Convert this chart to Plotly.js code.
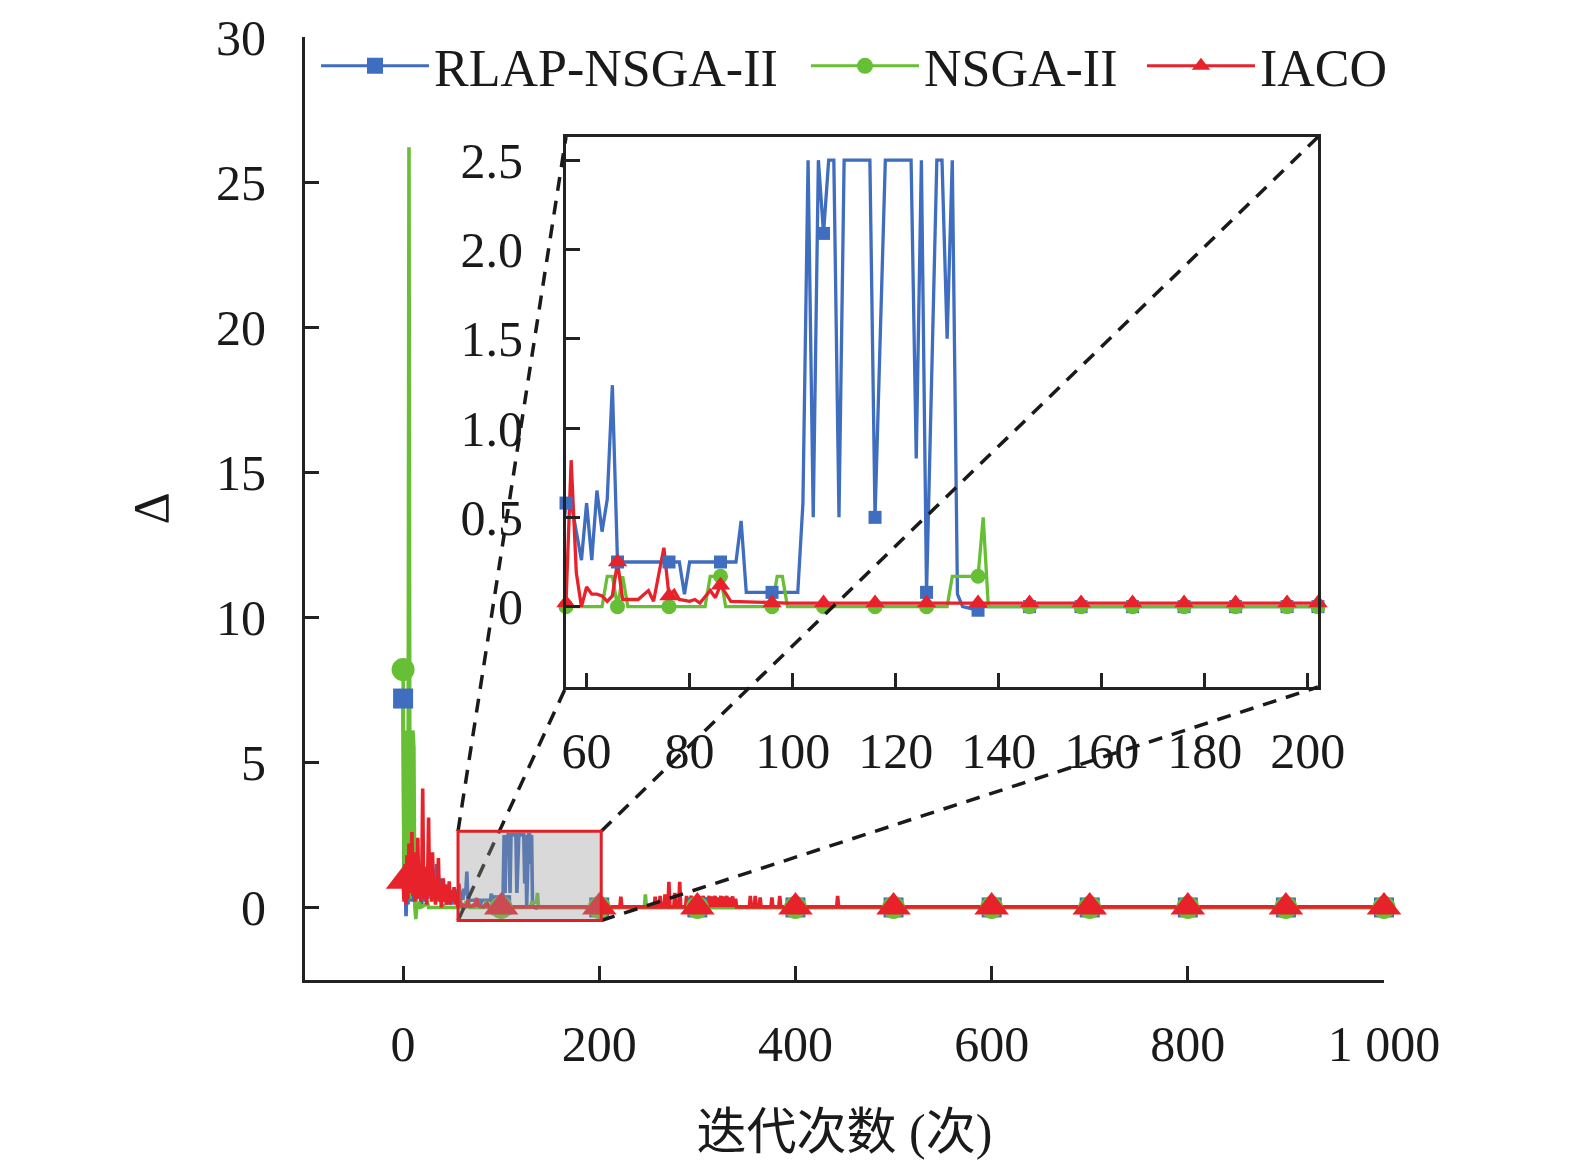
<!DOCTYPE html>
<html>
<head>
<meta charset="utf-8">
<script src="https://cdn.plot.ly/plotly-3.0.1.min.js"></script>
<style>html,body{margin:0;padding:0;background:#fff;}</style>
</head>
<body>
<div id="chart" style="width:1575px;height:1171px;"></div>
<script>
// ---------------- data ----------------
const seriesNames = ['RLAP-NSGA-II', 'NSGA-II', 'IACO'];

// RLAP-NSGA-II (blue) vertices: iteration / Delta
const rlapIter = [0,1,2,3,4,5,6,7,8,9,10,11,12,13,14,15,16,17,18,19,20,21,22,23,24,25,26,27,28,29,30,31,32,33,34,35,36,37,38,39,40,41,42,43,44,45,46,47,48,49,50,51,52,53,54,55,
  56,57,59,60,61,62,63,64,65,66,75,78,79,80,89,90,91,101,102,103,104,105,106,107,108,109,110,115,116,118,123,124,125,126,128,129,130,131,132,133,136,137,1000];
const rlapVal = [7.2,0.3,1.2,-0.3,0.9,0.1,1.5,0.4,1.1,0.2,1.3,0.5,1.0,0.2,0.8,0.3,1.2,0.4,0.9,0.1,0.7,0.3,0.8,0.2,0.6,0.3,1.4,0.4,1.2,0.3,0.9,0.4,1.3,0.5,1.5,0.6,1.1,0.4,1.0,0.3,0.9,0.2,0.6,0.2,0.5,0.1,0.4,0.2,0.5,0.1,0.3,0.2,0.4,0.3,0.5,0.3,
  0.58,0.58,0.26,0.58,0.26,0.65,0.42,0.6,1.24,0.25,0.25,0.25,0.07,0.25,0.25,0.48,0.08,0.08,0.58,2.5,0.5,2.5,2.09,2.5,2.5,0.5,2.5,2.5,0.5,2.5,2.5,0.83,2.5,0.08,2.5,2.5,1.5,2.5,0.07,0.0,-0.02,0.0,0.0];

// NSGA-II (green)
const nsgaIter = [0,1,2,3,4,5,6,7,8,9,10,11,12,13,14,15,16,17,18,25,26,40,41,42,
  56,63,64,65,66,67,68,83,84,86,87,96,97,98,99,130,131,136,137,138,246,247,248,322,323,324,1000];
const nsgaVal = [8.2,0.4,6.0,0.3,6.1,0.5,26.2,0.3,6.0,0.4,6.1,5.5,0.0,-0.4,0.1,0.0,0.2,0.0,0.0,0.15,0.0,0.0,0.1,0.0,
  0.0,0.0,0.17,0.17,0.0,0.17,0.0,0.0,0.17,0.17,0.0,0.0,0.17,0.17,0.0,0.0,0.17,0.17,0.5,0.0,0.0,0.45,0.0,0.0,0.3,0.0,0.0];

// IACO (red)
const iacoIter = [0,1,2,3,4,5,6,7,8,9,10,11,12,13,14,15,16,17,18,19,20,21,22,23,24,25,26,27,28,29,30,31,32,33,34,35,36,37,38,39,40,41,42,43,44,45,46,47,48,49,50,51,52,53,54,55,
  56,57,58,59,60,61,62,63,64,65,66,67,70,72,73,75,76,77,78,80,81,82,84,85,86,88,99,
  221,222,223,256,257,258,261,262,263,266,267,268,270,271,272,276,277,278,281,282,283,288,289,290,
  294,295,297,298,300,301,303,304,306,307,309,310,312,313,315,316,318,319,321,322,324,325,327,328,330,331,333,334,336,337,339,340,
  353,354,355,358,359,360,363,364,365,375,376,377,383,384,385,442,443,444,1000];
const iacoVal = [0.9,0.2,1.5,0.1,1.8,0.3,2.2,0.5,1.2,2.6,0.4,1.9,0.2,1.0,0.3,2.4,0.6,1.4,0.2,0.8,4.1,0.3,1.2,1.4,0.1,0.9,3.1,0.4,1.1,0.2,1.9,0.5,0.9,0.1,1.0,0.3,1.7,0.2,0.7,0.0,0.6,1.0,0.2,0.8,0.1,0.5,0.3,0.9,0.1,0.6,0.2,0.4,0.7,0.1,0.5,0.2,
  0.02,0.82,0.19,0.0,0.11,0.07,0.07,0.06,0.03,0.06,0.25,0.04,0.04,0.09,0.03,0.33,0.06,0.09,0.04,0.03,0.04,0.02,0.09,0.05,0.12,0.03,0.02,
  0.02,0.37,0.02,0.02,0.37,0.02,0.02,0.4,0.02,0.02,0.45,0.02,0.02,0.88,0.02,0.02,0.5,0.02,0.02,0.88,0.02,0.02,0.4,0.02,
  0.4,0.02,0.35,0.02,0.4,0.02,0.38,0.02,0.4,0.02,0.35,0.02,0.4,0.02,0.38,0.02,0.4,0.02,0.35,0.02,0.4,0.02,0.38,0.02,0.4,0.02,0.35,0.02,0.38,0.02,0.3,0.02,
  0.02,0.4,0.02,0.02,0.4,0.02,0.02,0.35,0.02,0.02,0.35,0.02,0.02,0.4,0.02,0.02,0.4,0.02,0.02];

// marker positions (main plot: every 100 iterations)
const mainMarkerIter = [0,100,200,300,400,500,600,700,800,900,1000];
const rlapMainMarkerVal = [7.2,0.08,0,0,0,0,0,0,0,0,0];
const nsgaMainMarkerVal = [8.2,0,0,0,0,0,0,0,0,0,0];
const iacoMainMarkerVal = [0.9,0.02,0.02,0.02,0.02,0.02,0.02,0.02,0.02,0.02,0.02];

// marker positions (inset: every 10 iterations)
const insetMarkerIter = [56,66,76,86,96,106,116,126,136,146,156,166,176,186,196,202];
const rlapInsetMarkerVal = [0.58,0.25,0.25,0.25,0.08,2.09,0.5,0.08,-0.02,0,0,0,0,0,0,0];
const nsgaInsetMarkerVal = [0,0,0,0.17,0,0,0,0,0.17,0,0,0,0,0,0,0];
const iacoInsetMarkerVal = [0.02,0.25,0.06,0.12,0.02,0.02,0.02,0.02,0.02,0.02,0.02,0.02,0.02,0.02,0.02,0.02];

// ticks
const mainXTickVals = [0,200,400,600,800,1000];
const mainXTickText = ['0','200','400','600','800','1 000'];
const mainYTickVals = [0,5,10,15,20,25,30];
const insetXTickVals = [60,80,100,120,140,160,180,200];
const insetYTickVals = [0,0.5,1.0,1.5,2.0,2.5];
const insetYTickText = ['0','0.5','1.0','1.5','2.0','2.5'];

const xTitle = '迭代次数 (次)';
const yTitle = 'Δ';

// ---------------- style ----------------
const colors = ['#3F6DBF', '#67BF35', '#E8222B'];
const FONT = "'Liberation Serif', 'Times New Roman', 'Noto Sans CJK SC', serif";
const mainXRange = [-100, 1000], mainYRange = [-2.5, 30];
const insetXRange = [56, 202], insetYRange = [-0.45, 2.63];
const insetXDomain = [0.2419, 0.9388], insetYDomain = [0.3107, 0.894];
const axisColor = '#222';
const legendIds = ['legend', 'legend2', 'legend3'];
const legendX = [0.0102, 0.4643, 0.7757];

const iters = [rlapIter, nsgaIter, iacoIter];
const vals = [rlapVal, nsgaVal, iacoVal];
const mainMk = [rlapMainMarkerVal, nsgaMainMarkerVal, iacoMainMarkerVal];
const insetMk = [rlapInsetMarkerVal, nsgaInsetMarkerVal, iacoInsetMarkerVal];
const symbols = ['square', 'circle', 'triangle-up'];
const mainSizes = [20, 23, 30];
const insetSizes = [13, 15, 17];

const traces = [];
// legend entries
for (let i = 0; i < 3; i++) {
  traces.push({
    x: [null], y: [null], name: seriesNames[i], type: 'scatter', mode: 'lines+markers',
    line: {color: colors[i], width: 3}, marker: {symbol: symbols[i], size: 18, color: colors[i]},
    xaxis: 'x', yaxis: 'y', showlegend: true, legend: legendIds[i], hoverinfo: 'skip'
  });
}
// main lines
for (let i = 0; i < 3; i++) {
  traces.push({
    x: iters[i], y: vals[i], type: 'scatter', mode: 'lines',
    line: {color: colors[i], width: 3.6}, xaxis: 'x', yaxis: 'y', showlegend: false
  });
}
// main markers
for (let i = 0; i < 3; i++) {
  traces.push({
    x: mainMarkerIter, y: mainMk[i], type: 'scatter', mode: 'markers',
    marker: {symbol: symbols[i], size: mainSizes[i], color: colors[i]},
    xaxis: 'x', yaxis: 'y', showlegend: false, cliponaxis: false
  });
}
// inset lines
for (let i = 0; i < 3; i++) {
  traces.push({
    x: iters[i], y: vals[i], type: 'scatter', mode: 'lines',
    line: {color: colors[i], width: 3.3}, xaxis: 'x2', yaxis: 'y2', showlegend: false
  });
}
// inset markers
for (let i = 0; i < 3; i++) {
  traces.push({
    x: insetMarkerIter, y: insetMk[i], type: 'scatter', mode: 'markers',
    marker: {symbol: symbols[i], size: insetSizes[i], color: colors[i]},
    xaxis: 'x2', yaxis: 'y2', showlegend: false, cliponaxis: false
  });
}

// zoom connector geometry (paper coordinates derived from axis ranges)
const px = v => (v - mainXRange[0]) / (mainXRange[1] - mainXRange[0]);
const py = v => (v - mainYRange[0]) / (mainYRange[1] - mainYRange[0]);
const dashLine = {color: '#1a1a1a', width: 3.5, dash: '14px,10px'};
const shapes = [
  {type: 'line', xref: 'paper', yref: 'paper', layer: 'above',
   x0: px(insetXRange[0]), y0: py(insetYRange[1]), x1: insetXDomain[0], y1: insetYDomain[1], line: dashLine},
  {type: 'line', xref: 'paper', yref: 'paper', layer: 'above',
   x0: px(insetXRange[0]), y0: py(insetYRange[0]), x1: insetXDomain[0], y1: insetYDomain[0], line: dashLine},
  {type: 'line', xref: 'paper', yref: 'paper', layer: 'above',
   x0: px(insetXRange[1]), y0: py(insetYRange[1]), x1: insetXDomain[1], y1: insetYDomain[1], line: dashLine},
  {type: 'line', xref: 'paper', yref: 'paper', layer: 'above',
   x0: px(insetXRange[1]), y0: py(insetYRange[0]), x1: insetXDomain[1], y1: insetYDomain[0], line: dashLine},
  {type: 'rect', xref: 'x', yref: 'y', layer: 'above',
   x0: insetXRange[0], x1: insetXRange[1], y0: insetYRange[0], y1: insetYRange[1],
   fillcolor: 'rgba(150,150,150,0.36)', line: {color: '#E02228', width: 3}}
];

const axBase = {
  showline: true, linewidth: 3, linecolor: axisColor, ticks: 'inside', ticklen: 14,
  tickwidth: 3, tickcolor: axisColor, showgrid: false, zeroline: false,
  tickfont: {family: FONT, size: 50, color: '#1a1a1a'}
};

const legendBase = {
  orientation: 'h', xanchor: 'left', y: 0.9692, yanchor: 'middle',
  font: {family: FONT, size: 52, color: '#1a1a1a'},
  bgcolor: 'rgba(0,0,0,0)', itemwidth: 108, itemsizing: 'trace'
};

const layout = {
  width: 1575, height: 1171,
  margin: {l: 305, r: 191, t: 37, b: 191, pad: 0},
  paper_bgcolor: '#fff', plot_bgcolor: 'rgba(0,0,0,0)',
  font: {family: FONT, color: '#1a1a1a'},
  showlegend: true,
  legend: Object.assign({}, legendBase, {x: legendX[0]}),
  legend2: Object.assign({}, legendBase, {x: legendX[1]}),
  legend3: Object.assign({}, legendBase, {x: legendX[2]}),
  xaxis: Object.assign({}, axBase, {
    domain: [0, 1], range: mainXRange, anchor: 'y',
    tickmode: 'array', tickvals: mainXTickVals, ticktext: mainXTickText, ticklabelstandoff: 18,
    title: {text: xTitle, font: {family: FONT, size: 50, color: '#1a1a1a'}, standoff: 43}
  }),
  yaxis: Object.assign({}, axBase, {
    domain: [0, 1], range: mainYRange, anchor: 'x',
    tickmode: 'array', tickvals: mainYTickVals, ticklabelstandoff: 26,
    title: {text: yTitle, font: {family: FONT, size: 50, color: '#1a1a1a'}, standoff: 32}
  }),
  xaxis2: Object.assign({}, axBase, {
    domain: insetXDomain, range: insetXRange, anchor: 'y2', mirror: true,
    tickmode: 'array', tickvals: insetXTickVals, ticklabelstandoff: 18
  }),
  yaxis2: Object.assign({}, axBase, {
    domain: insetYDomain, range: insetYRange, anchor: 'x2', mirror: true,
    tickmode: 'array', tickvals: insetYTickVals, ticktext: insetYTickText, ticklabelstandoff: 30
  }),
  shapes: shapes
};

Plotly.newPlot('chart', traces, layout, {staticPlot: true, displayModeBar: false});
</script>
</body>
</html>
